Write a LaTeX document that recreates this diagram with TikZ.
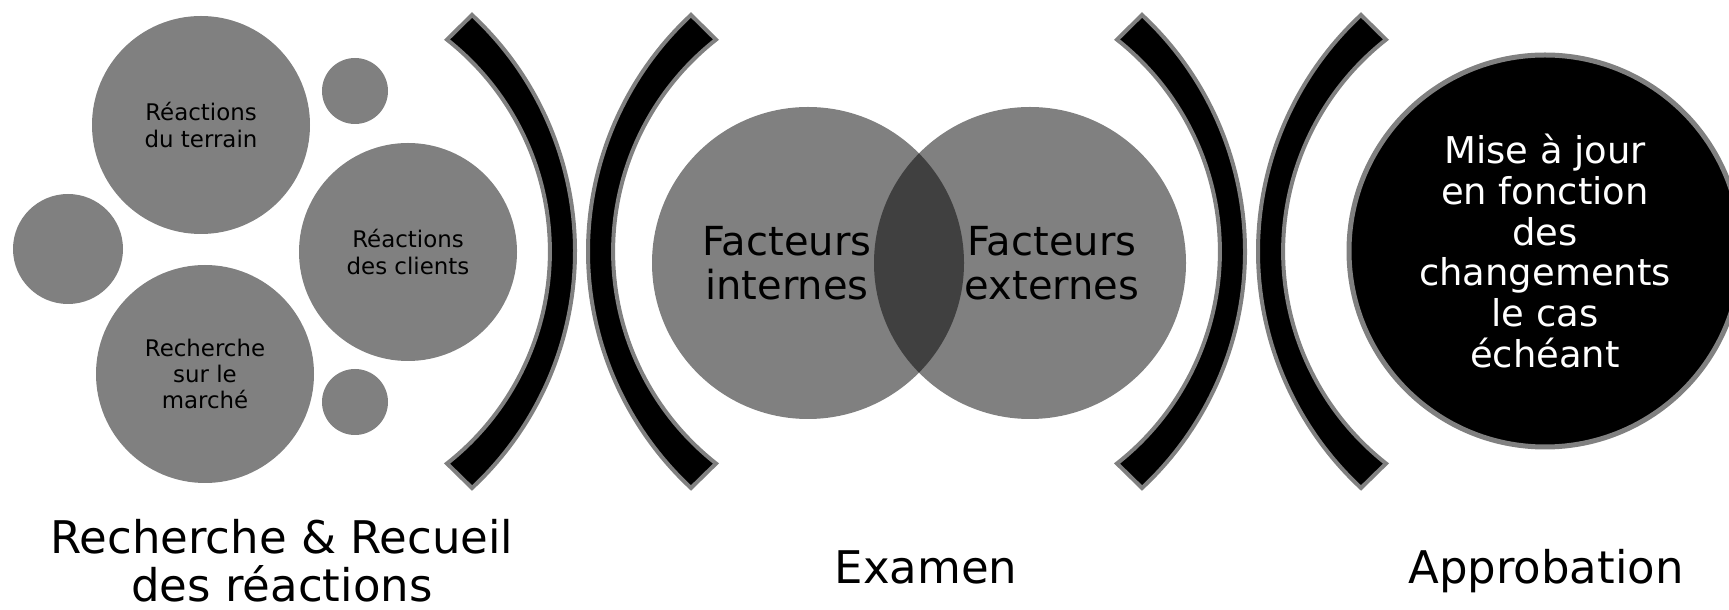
\documentclass[tikz,border=0pt]{standalone}
\usepackage{fontspec}
\setmainfont{DejaVu Sans}
\definecolor{bubblegray}{gray}{0.5}
\definecolor{lensgray}{gray}{0.25}
\definecolor{edgegray}{gray}{0.5}

\begin{document}
\begin{tikzpicture}[x=1pt,y=1pt,
	bubble/.style={circle,fill=bubblegray,inner sep=0pt,minimum size=218pt,align=center,
		font=\fontsize{22.9}{26.2}\selectfont},
	bracket/.style={fill=black,draw=edgegray,line width=4pt},
	venntext/.style={align=center,font=\fontsize{40}{44}\selectfont},
	stagetext/.style={align=center,font=\fontsize{45}{48}\selectfont}]
	\useasboundingbox (0,0) rectangle (1729,610);
	\clip (0,-10) rectangle (1729,610);
	% recherche & recueil
	\node[bubble] (terrain) at (201,485) {Réactions\\du terrain};
	\node[bubble] (clients) at (408,358) {Réactions\\des clients};
	\node[bubble] (marche) at (205,236) {Recherche\\sur le\\marché};
	\fill[bubblegray] (355,519) circle (33);
	\fill[bubblegray] (68,361) circle (55);
	\fill[bubblegray] (355,208) circle (33);
	% brackets
	\draw[bracket] (472,595) arc[start angle=47.07,end angle=-47.07,radius=323]
		-- (447,146.5) arc[start angle=-51.8,end angle=51.8,radius=269.7] -- cycle;
	\draw[bracket] (691,595) arc[start angle=132.93,end angle=227.07,radius=323]
		-- (716,146.5) arc[start angle=231.8,end angle=128.2,radius=269.7] -- cycle;
	\draw[bracket] (1142,595) arc[start angle=47.07,end angle=-47.07,radius=323]
		-- (1117,146.5) arc[start angle=-51.8,end angle=51.8,radius=269.7] -- cycle;
	\draw[bracket] (1361,595) arc[start angle=132.93,end angle=227.07,radius=323]
		-- (1386,146.5) arc[start angle=231.8,end angle=128.2,radius=269.7] -- cycle;
	% examen
	\fill[bubblegray] (808,347) circle (156);
	\fill[bubblegray] (1030,347) circle (156);
	\begin{scope}
		\clip (808,347) circle (156);
		\fill[lensgray] (1030,347) circle (156);
	\end{scope}
	\node[venntext] (internes) at (787,347) {Facteurs\\internes};
	\node[venntext] (externes) at (1052,347) {Facteurs\\externes};
	% approbation
	\node[circle,fill=black,draw=edgegray,line width=5pt,minimum size=392pt,inner sep=0pt,
		text=white,align=center,font=\fontsize{36.9}{40.7}\selectfont] (majour) at (1545,359)
		{Mise à jour\\en fonction\\des\\changements\\le cas\\échéant};
	% stage names
	\node[stagetext,anchor=south] (recueil) at (282,4) {Recherche \& Recueil\\des réactions};
	\node[stagetext,anchor=base] (examen) at (926,26) {Examen};
	\node[stagetext,anchor=base] (approb) at (1546,26) {Approbation};
\end{tikzpicture}
\end{document}
